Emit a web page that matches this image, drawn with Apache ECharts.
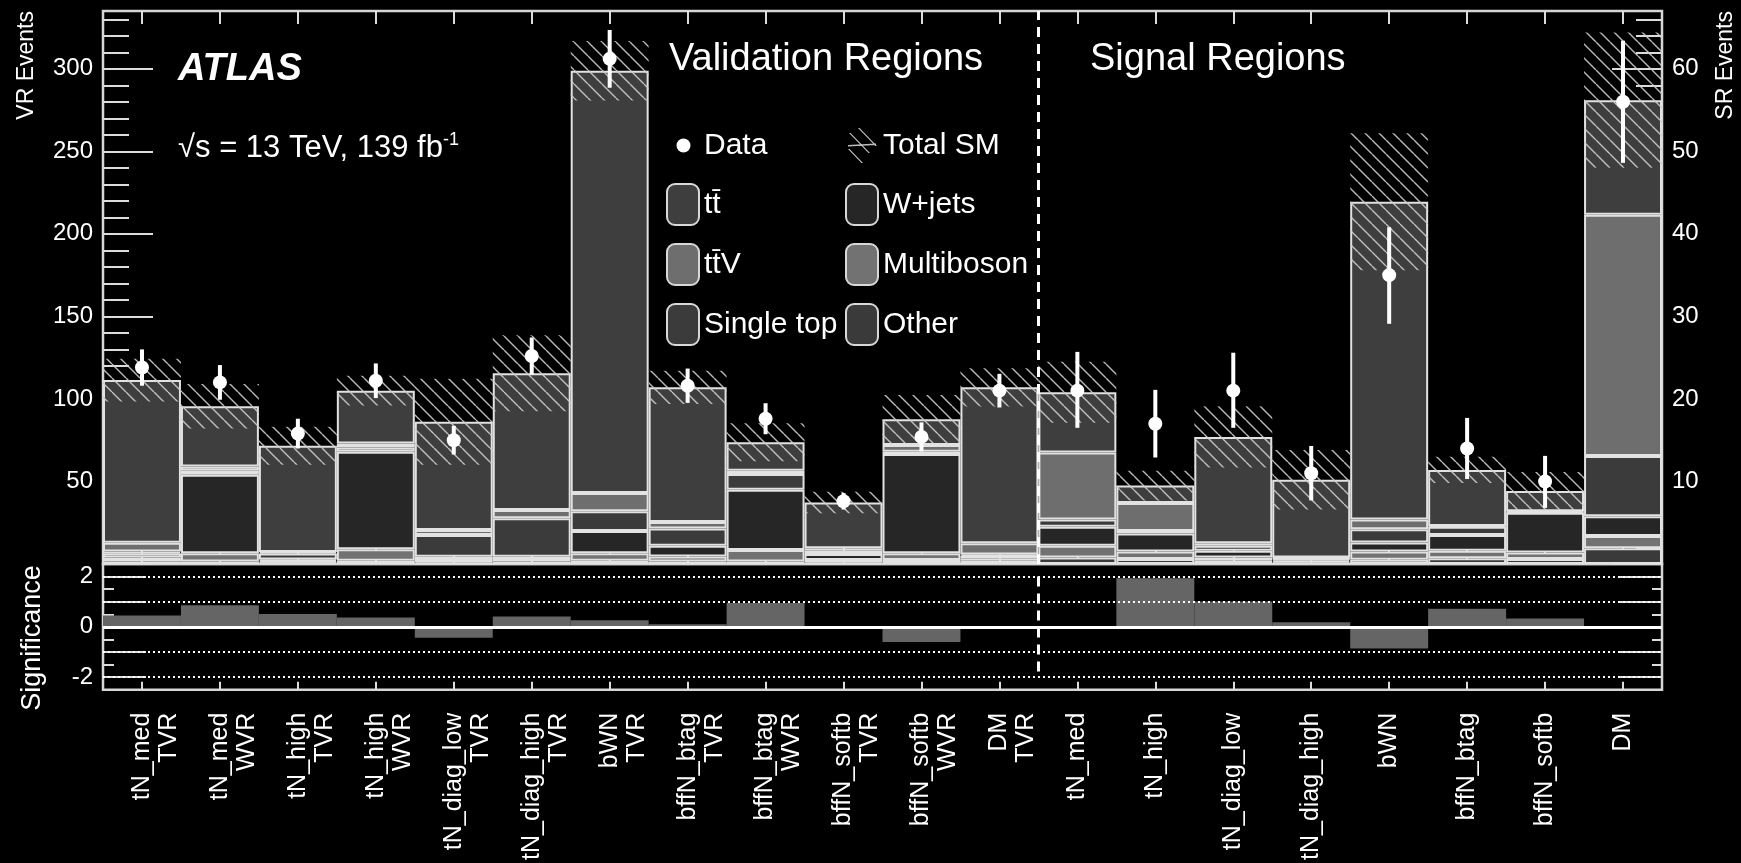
<!DOCTYPE html>
<html>
<head>
<meta charset="utf-8">
<script src="https://cdn.jsdelivr.net/npm/echarts@6/dist/echarts.min.js"></script>
<style>
  html, body { margin: 0; padding: 0; background: #000; }
  #chart { width: 1741px; height: 863px; }
</style>
</head>
<body>
<div id="chart"></div>
<script>
const FONT = '"Liberation Sans", Arial, Helvetica, sans-serif';

// Region names (validation regions first, then signal regions)
const regionLabels = [
  'tN_med\nTVR', 'tN_med\nWVR', 'tN_high\nTVR', 'tN_high\nWVR', 'tN_diag_low\nTVR',
  'tN_diag_high\nTVR', 'bWN\nTVR', 'bffN_btag\nTVR', 'bffN_btag\nWVR', 'bffN_softb\nTVR',
  'bffN_softb\nWVR', 'DM\nTVR',
  'tN_med', 'tN_high', 'tN_diag_low', 'tN_diag_high', 'bWN', 'bffN_btag', 'bffN_softb', 'DM'
];

// Validation regions: expected events per process
const vrOther      = [1.5, 1.5, 1.0, 2.0, 1.0, 1.5, 2.0, 1.5, 1.5, 1.0, 2.4, 2.0];
const vrMultiboson = [2.5, 5.0, 0.8, 7.0, 1.4, 1.5, 4.5, 3.0, 7.0, 1.4, 4.1, 1.5];
const vrWjets      = [2.5, 47.5, 1.0, 59.0, 2.0, 1.4, 13.5, 6.5, 36.5, 3.6, 60.2, 1.3];
const vrSingleTop  = [1.0, 2.5, 3.5, 2.5, 13.2, 23.3, 12.0, 10.5, 9.5, 2.0, 1.3, 1.0];
const vrTtV        = [5.4, 2.5, 1.0, 2.5, 3.0, 5.0, 11.0, 4.0, 2.0, 1.5, 4.1, 6.7];
const vrTtbar      = [98.5, 36.6, 64.3, 32.0, 65.6, 82.8, 255.8, 81.5, 17.2, 27.7, 15.6, 94.5];
const vrUnc        = [13, 13.5, 11.5, 9, 26, 23, 18, 10, 11.5, 6.5, 14.7, 11.6];
const vrData       = [119, 110, 79, 111, 75, 126, 306, 108, 88, 38, 77, 105];
const vrDataErr    = [11, 10.5, 9, 10.5, 8.7, 11.2, 17.5, 10.4, 9.4, 5, 8.8, 10.2];

// Signal regions: expected events per process
const srOther      = [0.8, 0.6, 0.4, 0.2, 0.5, 0.7, 0.6, 1.9];
const srMultiboson = [1.4, 0.9, 0.4, 0.2, 1.0, 0.9, 0.8, 1.5];
const srWjets      = [2.3, 2.2, 0.8, 0.2, 1.1, 1.9, 4.8, 2.4];
const srSingleTop  = [0.9, 0.3, 0.6, 0.1, 1.6, 1.0, 0.1, 7.3];
const srTtV        = [8.1, 3.4, 0.3, 0.1, 1.2, 0.1, 0.1, 29.2];
const srTtbar      = [7.3, 2.1, 12.9, 9.4, 38.5, 6.8, 2.45, 13.9];
const srUnc        = [3.7, 1.8, 3.7, 3.6, 8.3, 1.6, 2.3, 8.2];
const srData       = [21, 17, 21, 11, 35, 14, 10, 56];
const srDataErrUp  = [4.7, 4.1, 4.6, 3.3, 5.8, 3.7, 3.1, 7.4];
const srDataErrDn  = [4.5, 4.1, 4.5, 3.3, 5.9, 3.7, 3.2, 7.4];

// Significance of data vs. SM expectation, per region
const significance = [0.45, 0.86, 0.51, 0.37, -0.43, 0.41, 0.26, 0.10, 0.95, 0.03, -0.60, -0.08,
                      0.02, 1.93, 1.01, 0.18, -0.86, 0.72, 0.33, 0.0];

// Axis ticks
const vrTickValues   = [0, 50, 100, 150, 200, 250, 300];
const vrTickLabels   = [50, 100, 150, 200, 250, 300];
const vrMinorTicks   = [10, 20, 30, 40, 60, 70, 80, 90, 110, 120, 130, 140, 160, 170, 180, 190,
                        210, 220, 230, 240, 260, 270, 280, 290, 310, 320, 330];
const srTickValues   = [0, 10, 20, 30, 40, 50, 60];
const srTickLabels   = [10, 20, 30, 40, 50, 60];
const srMinorTicks   = [2, 4, 6, 8, 12, 14, 16, 18, 22, 24, 26, 28, 32, 34, 36, 38, 42, 44, 46, 48,
                        52, 54, 56, 58, 62, 64, 66];
const sigTickValues  = [-2, -1, 0, 1, 2];
const sigTickLabels  = [-2, 0, 2];
const sigMinorTicks  = [-1.5, -0.5, 0.5, 1.5];
const sigRefLines    = [-2, -1, 1, 2];

// Stack order, bottom to top
const processes = [
  { name: 'Other',        vr: vrOther,      sr: srOther,      color: '#3a3a3a' },
  { name: 'Multiboson',   vr: vrMultiboson, sr: srMultiboson, color: '#727272' },
  { name: 'W+jets',       vr: vrWjets,      sr: srWjets,      color: '#262626' },
  { name: 'Single top',   vr: vrSingleTop,  sr: srSingleTop,  color: '#3b3b3b' },
  { name: 'tt\u0304V',    vr: vrTtV,        sr: srTtV,        color: '#6e6e6e' },
  { name: 'tt\u0304',     vr: vrTtbar,      sr: srTtbar,      color: '#3e3e3e' }
];

const nVR = vrData.length;
const nSR = srData.length;
const padVR = arr => arr.concat(new Array(nSR).fill('-'));
const padSR = arr => new Array(nVR).fill('-').concat(arr);
const totalOf = (key, n) => Array.from({ length: n }, (_, i) =>
  processes.reduce((s, p) => s + p[key][i], 0));
const vrTotal = totalOf('vr', nVR);
const srTotal = totalOf('sr', nSR);

// Diagonal hatch for the total SM uncertainty band
function makeHatch() {
  const s = 14;
  const c = document.createElement('canvas');
  c.width = s; c.height = s;
  const g = c.getContext('2d');
  g.strokeStyle = 'rgba(205,205,205,0.9)';
  g.lineWidth = 1.4;
  g.beginPath();
  [-s, 0, s].forEach(o => { g.moveTo(o, 0); g.lineTo(o + s, s); });
  g.stroke();
  return c;
}
const hatch = { image: makeHatch(), repeat: 'repeat' };

function drawPoint(params, api) {
  const i = api.value(0), v = api.value(1), dn = api.value(2), up = api.value(3);
  const c = api.coord([i, v]);
  const lo = api.coord([i, v - dn]);
  const hi = api.coord([i, v + up]);
  return {
    type: 'group',
    children: [
      { type: 'line', shape: { x1: c[0], y1: lo[1], x2: c[0], y2: hi[1] }, style: { stroke: '#fff', lineWidth: 4 } },
      { type: 'circle', shape: { cx: c[0], cy: c[1], r: 7 }, style: { fill: '#fff' } }
    ]
  };
}

const frame = '#d6d6d6';
const tickLine = { color: '#dcdcdc', width: 2 };
const barCommon = { type: 'bar', barWidth: '100%', barGap: '-100%', silent: true, xAxisIndex: 0 };

const series = [];
processes.forEach(p => {
  const style = { color: p.color, borderColor: '#e2e2e2', borderWidth: 2 };
  series.push(Object.assign({}, barCommon, { name: p.name, stack: 'vr', yAxisIndex: 0, data: padVR(p.vr), itemStyle: style }));
  series.push(Object.assign({}, barCommon, { name: p.name, stack: 'sr', yAxisIndex: 1, data: padSR(p.sr), itemStyle: style }));
});
// Uncertainty bands: invisible base + hatched band
series.push(Object.assign({}, barCommon, { name: 'vrBase', stack: 'vrUnc', yAxisIndex: 0,
  data: padVR(vrTotal.map((t, i) => t - vrUnc[i])), itemStyle: { color: 'rgba(0,0,0,0)' } }));
series.push(Object.assign({}, barCommon, { name: 'Total SM', stack: 'vrUnc', yAxisIndex: 0,
  data: padVR(vrUnc.map(u => 2 * u)), itemStyle: { color: hatch } }));
series.push(Object.assign({}, barCommon, { name: 'srBase', stack: 'srUnc', yAxisIndex: 1,
  data: padSR(srTotal.map((t, i) => t - srUnc[i])), itemStyle: { color: 'rgba(0,0,0,0)' } }));
series.push(Object.assign({}, barCommon, { name: 'Total SM', stack: 'srUnc', yAxisIndex: 1,
  data: padSR(srUnc.map(u => 2 * u)), itemStyle: { color: hatch } }));

// Data points with error bars
series.push({
  type: 'custom', name: 'Data', xAxisIndex: 0, yAxisIndex: 0, z: 5, silent: true,
  renderItem: drawPoint, encode: { x: 0, y: 1 }, itemStyle: { color: '#fff' },
  data: vrData.map((v, i) => [i, v, vrDataErr[i], vrDataErr[i]])
});
series.push({
  type: 'custom', name: 'Data', xAxisIndex: 0, yAxisIndex: 1, z: 5, silent: true,
  renderItem: drawPoint, encode: { x: 0, y: 1 }, itemStyle: { color: '#fff' },
  data: srData.map((v, i) => [nVR + i, v, srDataErrDn[i], srDataErrUp[i]])
});

// Separator between validation and signal regions
series.push({
  type: 'line', name: 'sepTop', xAxisIndex: 2, yAxisIndex: 0, data: [[nVR, 0]], showSymbol: false,
  lineStyle: { opacity: 0 }, silent: true, z: 6,
  markLine: { silent: true, symbol: 'none', label: { show: false },
    lineStyle: { color: '#fff', type: [10, 7], width: 3 }, data: [{ xAxis: nVR }] }
});
series.push({
  type: 'line', name: 'sepBottom', xAxisIndex: 4, yAxisIndex: 4, data: [[nVR, 0]], showSymbol: false,
  lineStyle: { opacity: 0 }, silent: true, z: 6,
  markLine: { silent: true, symbol: 'none', label: { show: false },
    lineStyle: { color: '#fff', type: [10, 7], width: 3 },
    data: [[{ coord: [nVR, 2] }, { coord: [nVR, -2] }]] }
});

// Significance panel
series.push({
  type: 'bar', name: 'Significance', xAxisIndex: 3, yAxisIndex: 4, barWidth: '100%', silent: true,
  data: significance, itemStyle: { color: '#656565' },
  markLine: {
    silent: true, symbol: 'none', label: { show: false }, z: 6,
    lineStyle: { color: '#fff', type: [2, 3], width: 2 },
    data: sigRefLines.map(v => ({ yAxis: v })).concat([
      { yAxis: 0, lineStyle: { color: '#fff', type: 'solid', width: 3 } }
    ])
  }
});

// Two-line labels: first line on the bin centre, second line beside it
const regionLabelText = v => (v.indexOf('\n') >= 0 ? '\n' + v : v);

function catAxis(grid, pos, len, extra) {
  return Object.assign({
    type: 'category', gridIndex: grid, position: pos, data: regionLabels,
    axisLine: { show: false, onZero: false },
    axisTick: { show: true, inside: true, alignWithLabel: true, interval: 0, length: len, lineStyle: tickLine },
    axisLabel: { show: false }, splitLine: { show: false }
  }, extra || {});
}
function valAxis(grid, pos, min, max, ticks, len, labels) {
  return {
    type: 'value', gridIndex: grid, position: pos, min: min, max: max,
    axisLine: { show: false, onZero: false },
    axisTick: { show: true, inside: true, length: len, customValues: ticks, lineStyle: tickLine },
    axisLabel: labels ? { show: true, customValues: labels, color: '#fff', fontSize: 24, fontFamily: FONT, margin: 10 }
                      : { show: false },
    splitLine: { show: false }
  };
}

// Legend icons
const dataIcon = 'path://M0 0L0.01 0L0 0.01ZM32 41L31.99 41L32 40.99ZM9.5 20.5a7 7 0 1 0 14 0a7 7 0 1 0 -14 0Z';
const hatchIcon = 'path://M0 0L0.01 0L0 0.01ZM32 41L31.99 41L32 40.99Z' +
  'M12 3L13.6 3L31 21L29.4 21Z' +
  'M3 8L4.6 8L24 28L22.4 28Z' +
  'M2 24L3.6 24L17 38L15.4 38Z' +
  'M2 20L30 18.6L30 20L2 21.4Z';

const legendText = { color: '#fff', fontSize: 30, fontFamily: FONT };
const legendBase = {
  orient: 'vertical', top: 125, itemWidth: 32, itemHeight: 41, itemGap: 17,
  selectedMode: false, padding: 0, textStyle: legendText,
  itemStyle: { borderColor: '#d8d8d8', borderWidth: 2 }
};

const option = {
  backgroundColor: '#000',
  animation: false,
  textStyle: { fontFamily: FONT },
  grid: [
    { left: 103, right: 79, top: 11, height: 553, show: true, borderColor: frame, borderWidth: 2.5, backgroundColor: 'transparent' },
    { left: 103, right: 79, top: 564, height: 130, show: true, borderColor: frame, borderWidth: 2.5, backgroundColor: 'transparent' }
  ],
  xAxis: [
    catAxis(0, 'bottom', 17),
    catAxis(0, 'top', 13),
    { type: 'value', gridIndex: 0, min: 0, max: regionLabels.length, show: false },
    catAxis(1, 'bottom', 8, {
      axisLabel: { show: true, interval: 0, rotate: 90, color: '#fff', fontSize: 25, lineHeight: 27,
                   fontFamily: FONT, margin: 23, formatter: regionLabelText }
    }),
    { type: 'value', gridIndex: 1, min: 0, max: regionLabels.length, show: false }
  ],
  yAxis: [
    valAxis(0, 'left', 0, 335, vrTickValues, 50, vrTickLabels),
    valAxis(0, 'right', 0, 67, srTickValues, 50, srTickLabels),
    valAxis(0, 'left', 0, 335, vrMinorTicks, 26, null),
    valAxis(0, 'right', 0, 67, srMinorTicks, 26, null),
    valAxis(1, 'left', -2.5, 2.5, sigTickValues, 43, sigTickLabels),
    valAxis(1, 'left', -2.5, 2.5, sigMinorTicks, 11, null),
    valAxis(1, 'right', -2.5, 2.5, sigTickValues, 43, null),
    valAxis(1, 'right', -2.5, 2.5, sigMinorTicks, 10, null)
  ],
  legend: [
    Object.assign({}, legendBase, {
      left: 666,
      data: [
        { name: 'Data', icon: dataIcon, itemStyle: { color: '#fff', borderWidth: 0 } },
        { name: 'tt\u0304', icon: 'roundRect' },
        { name: 'tt\u0304V', icon: 'roundRect' },
        { name: 'Single top', icon: 'roundRect' }
      ]
    }),
    Object.assign({}, legendBase, {
      left: 845,
      data: [
        { name: 'Total SM', icon: hatchIcon, itemStyle: { color: '#bdbdbd', borderWidth: 0 } },
        { name: 'W+jets', icon: 'roundRect' },
        { name: 'Multiboson', icon: 'roundRect' },
        { name: 'Other', icon: 'roundRect' }
      ]
    })
  ],
  graphic: [
    { type: 'text', x: 178, y: 70, silent: true,
      style: { text: 'ATLAS', fill: '#fff', font: 'italic bold 38px ' + FONT, align: 'left', verticalAlign: 'middle' } },
    { type: 'text', x: 178, y: 148, silent: true,
      style: { text: '\u221As = 13 TeV, 139 fb{sup|-1}', fill: '#fff', font: '31px ' + FONT,
               align: 'left', verticalAlign: 'middle',
               rich: { sup: { fontSize: 18, fontFamily: FONT, fill: '#fff', verticalAlign: 'top', lineHeight: 34 } } } },
    { type: 'text', x: 669, y: 60, silent: true,
      style: { text: 'Validation Regions', fill: '#fff', font: '38px ' + FONT, align: 'left', verticalAlign: 'middle' } },
    { type: 'text', x: 1090, y: 60, silent: true,
      style: { text: 'Signal Regions', fill: '#fff', font: '38px ' + FONT, align: 'left', verticalAlign: 'middle' } },
    { type: 'text', x: 27, y: 11, rotation: Math.PI / 2, silent: true,
      style: { text: 'VR Events', fill: '#fff', font: '23px ' + FONT, align: 'right', verticalAlign: 'middle' } },
    { type: 'text', x: 1726, y: 11, rotation: Math.PI / 2, silent: true,
      style: { text: 'SR Events', fill: '#fff', font: '23px ' + FONT, align: 'right', verticalAlign: 'middle' } },
    { type: 'text', x: 33, y: 638, rotation: Math.PI / 2, silent: true,
      style: { text: 'Significance', fill: '#fff', font: '27px ' + FONT, align: 'center', verticalAlign: 'middle' } }
  ],
  series: series
};

const chart = echarts.init(document.getElementById('chart'));
chart.setOption(option);
</script>
</body>
</html>
